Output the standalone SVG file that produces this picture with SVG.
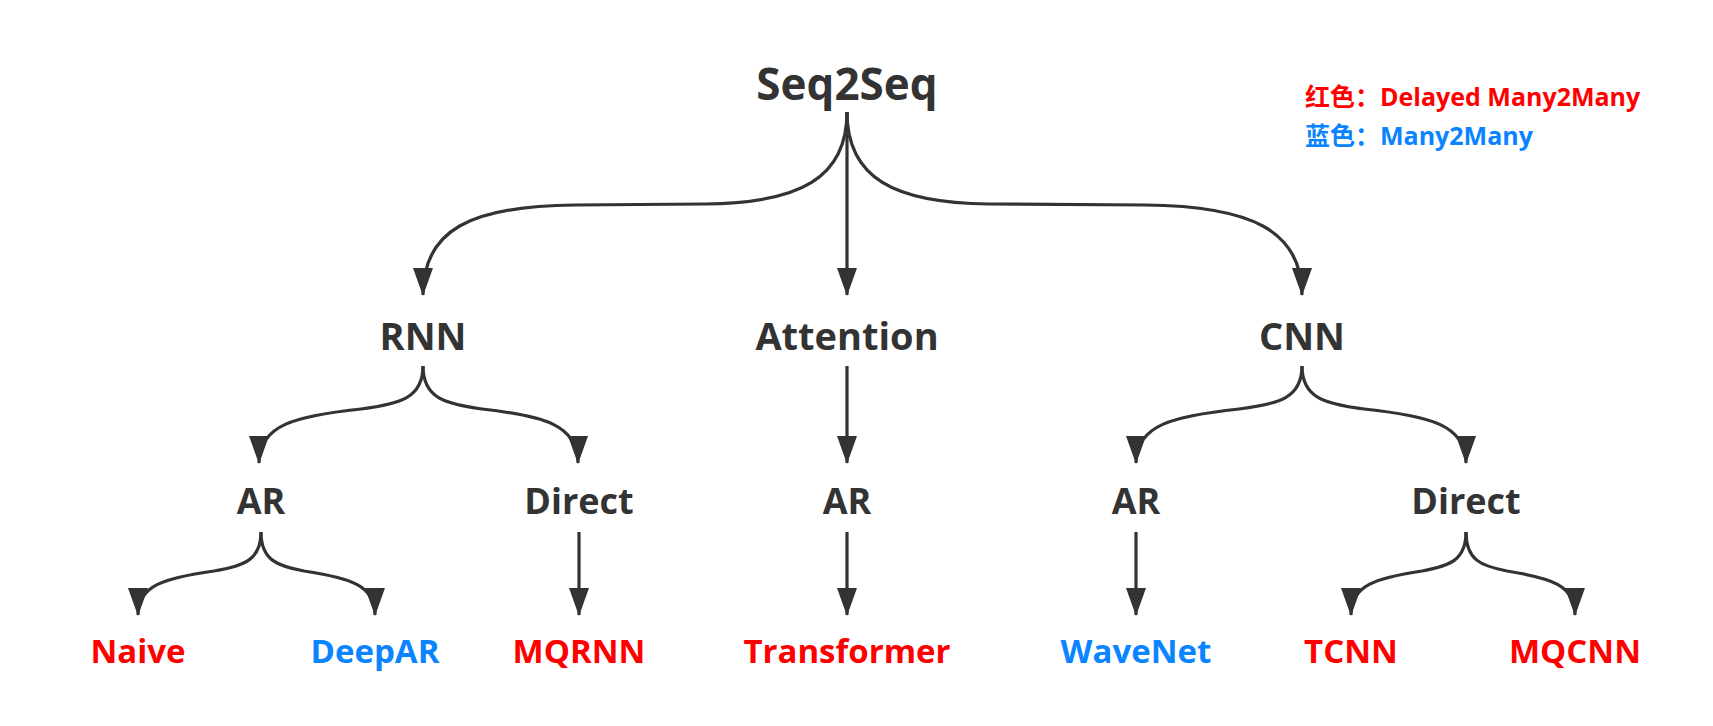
<svg xmlns="http://www.w3.org/2000/svg" width="1713" height="726" viewBox="0 0 1713 726">
<style>
text{font-family:"Open Sans","Noto Sans","Noto Sans CJK SC",sans-serif;font-weight:bold;text-anchor:middle}
.k{fill:#333333}
.r{fill:#FF0000}
.b{fill:#0A84FF}
.l1{font-size:44px}
.l2{font-size:38px}
.l3{font-size:36px}
.l4{font-size:33px}
.lg{font-size:25px;text-anchor:start}
.e{fill:none;stroke:#333333;stroke-width:3.2;marker-end:url(#ah)}
</style>
<defs>
<marker id="ah" markerUnits="userSpaceOnUse" viewBox="0 0 28 20" refX="27" refY="10" markerWidth="28" markerHeight="20" orient="auto">
<path d="M0,0 L28,10 L0,20 z" fill="#333333"/>
</marker>
</defs>
<rect width="1713" height="726" fill="#ffffff"/>
<g id="connectors">
<path class="e" d="M847,112 C847,178 800,203 705,204 L575,205 C470,206 423,230 423,295"/>
<path class="e" d="M847,112 L847,295"/>
<path class="e" d="M847,112 C847,178 894,203 989,204 L1145,205 C1250,206 1302,230 1302,295"/>
<path class="e" d="M423,366 C423,398 400,404 361,409 C295,416 259,425 259,463"/>
<path class="e" d="M423,366 C423,398 445,404 482,409 C544,416 578,425 578,463"/>
<path class="e" d="M847,366 L847,463"/>
<path class="e" d="M1302,366 C1302,398 1279,404 1239,409 C1173,416 1136,425 1136,463"/>
<path class="e" d="M1302,366 C1302,398 1325,404 1364,409 C1430,416 1466,425 1466,463"/>
<path class="e" d="M261,532 C261,560 244,566 214,571 C165,578 138,585 138,615"/>
<path class="e" d="M261,532 C261,560 277,566 304,571 C350,578 375,585 375,615"/>
<path class="e" d="M579,532 L579,615"/>
<path class="e" d="M847,532 L847,615"/>
<path class="e" d="M1136,532 L1136,615"/>
<path class="e" d="M1466,532 C1466,560 1450,566 1422,571 C1376,578 1351,585 1351,615"/>
<path class="e" d="M1466,532 C1466,560 1481,566 1507,571 C1551,578 1575,585 1575,615"/>
</g>
<g id="seq2seq"><text class="k l1" x="847" y="100">Seq2Seq</text></g>
<g id="legend">
<text class="r lg" x="1305" y="106">红色：Delayed Many2Many</text>
<text class="b lg" x="1305" y="145">蓝色：Many2Many</text>
</g>
<g id="rnn"><text class="k l2" x="423" y="350">RNN</text></g>
<g id="attention"><text class="k l2" x="847" y="350">Attention</text></g>
<g id="cnn"><text class="k l2" x="1302" y="350">CNN</text></g>
<g id="rnn-ar"><text class="k l3" x="261" y="514">AR</text></g>
<g id="rnn-direct"><text class="k l3" x="579" y="514">Direct</text></g>
<g id="att-ar"><text class="k l3" x="847" y="514">AR</text></g>
<g id="cnn-ar"><text class="k l3" x="1136" y="514">AR</text></g>
<g id="cnn-direct"><text class="k l3" x="1466" y="514">Direct</text></g>
<g id="naive"><text class="r l4" x="138" y="663">Naive</text></g>
<g id="deepar"><text class="b l4" x="375" y="663">DeepAR</text></g>
<g id="mqrnn"><text class="r l4" x="579" y="663">MQRNN</text></g>
<g id="transformer"><text class="r l4" x="847" y="663">Transformer</text></g>
<g id="wavenet"><text class="b l4" x="1136" y="663">WaveNet</text></g>
<g id="tcnn"><text class="r l4" x="1351" y="663">TCNN</text></g>
<g id="mqcnn"><text class="r l4" x="1575" y="663">MQCNN</text></g>
</svg>
